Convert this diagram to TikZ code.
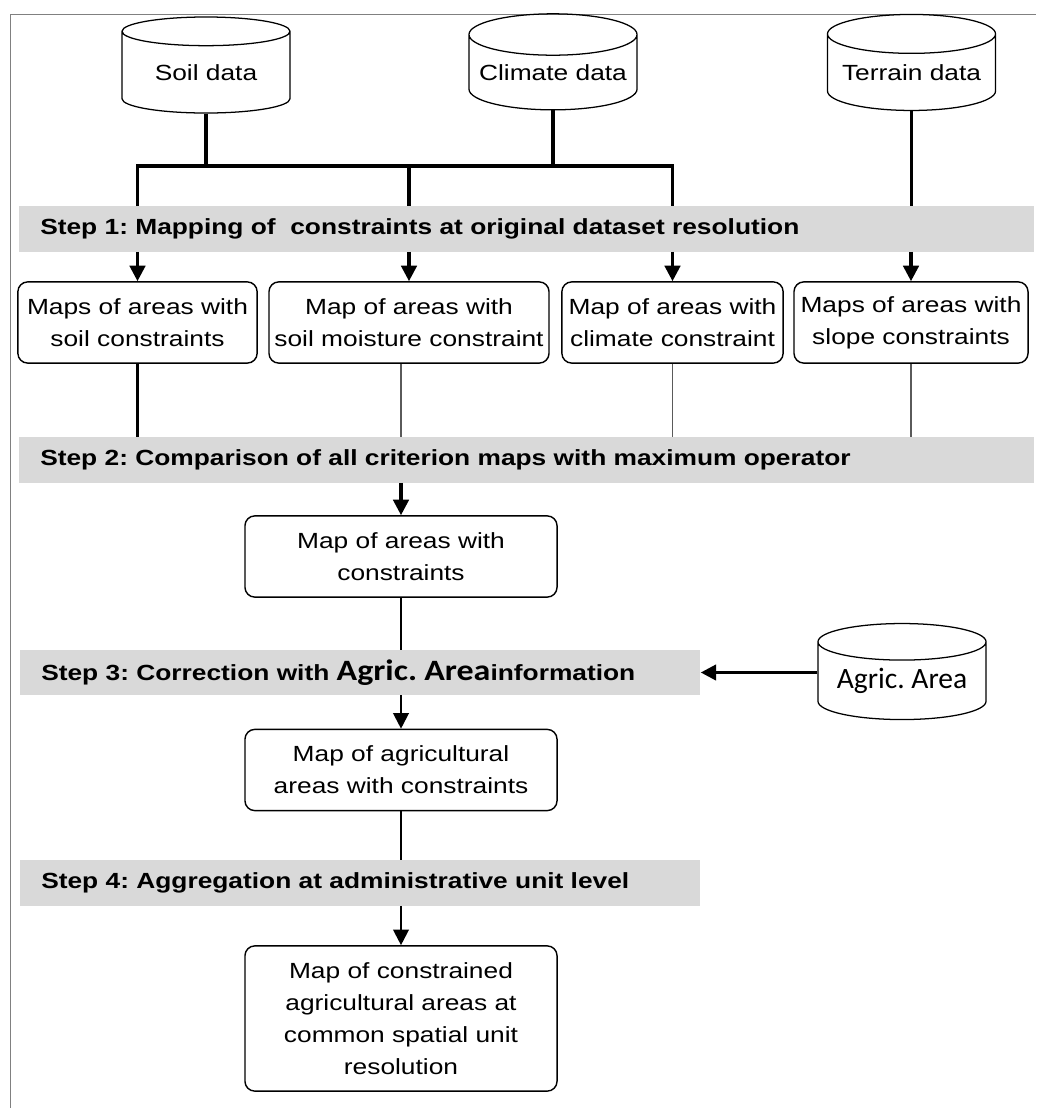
\documentclass[tikz,border=0pt]{standalone}
\usepackage{fontspec}
\setmainfont{Liberation Sans}[FakeStretch=1.2]
\newfontfamily\agricfont{Carlito}
\newfontfamily\agricstep{Carlito}[FakeStretch=1.15]
\usetikzlibrary{arrows.meta,shapes.geometric}
\frenchspacing

\definecolor{bargray}{RGB}{217,217,217}
\definecolor{framegray}{RGB}{128,128,128}
\definecolor{thingray}{RGB}{90,90,90}

\tikzset{
  every node/.style={font=\fontsize{15.6}{22.8}\selectfont},
  store/.style={draw, line width=0.9pt, shape=cylinder, shape border rotate=90,
    aspect=0.28, minimum width=4.2cm, minimum height=2.4cm, inner sep=0pt},
  mapbox/.style={draw, line width=1pt, rounded corners=7pt, align=center,
    inner xsep=0pt, minimum height=2.03cm},
  stepbar/.style={fill=bargray, anchor=west, align=left, inner xsep=0.525cm,
    minimum height=1.13cm, font=\fontsize{15.6}{18}\selectfont\bfseries},
  bus/.style={line width=2.2pt},
  midline/.style={line width=1.5pt},
  thinline/.style={line width=0.8pt, thingray}
}

\begin{document}
\begin{tikzpicture}[x=0.025cm, y=-0.025cm, >={Triangle[length=11pt,width=11pt]}]
\useasboundingbox (0,0) rectangle (1036,1108);
% Frame
\draw[framegray, line width=0.7pt] (10,1108) -- (10,14) -- (1036,14);

% Data sources
\node[store] (soil)    at (206,72.5)   {Soil data};
\node[store] (climate) at (553,72.5)   {Climate data};
\node[store] (terrain) at (911.5,72.5) {Terrain data};
\node[store, font=\agricfont\fontsize{21}{24}\selectfont] (agric) at (902,681) {Agric. Area};
\coordinate (bus) at (0,166);

% Steps
\node[stepbar, minimum width=25.35cm, text width=24.3cm] (step1) at (19,229)
  {Step 1: Mapping of\ \ constraints at original dataset resolution};
\node[stepbar, minimum width=25.35cm, text width=24.3cm] (step2) at (19,460)
  {Step 2: Comparison of all criterion maps with maximum operator};
\node[stepbar, minimum width=17cm, text width=15.95cm] (step3) at (20,672.5)
  {Step 3: Correction with {\agricstep\fontsize{21}{24}\selectfont Agric. Area}information};
\node[stepbar, minimum width=17cm, text width=15.95cm] (step4) at (20,883)
  {Step 4: Aggregation at administrative unit level};

% Maps
\node[mapbox, minimum width=5.98cm] (box1) at (137.5,322.5) {Maps of areas with\\soil constraints};
\node[mapbox, minimum width=7cm]    (box2) at (409,322.5)   {Map of areas with\\soil moisture constraint};
\node[mapbox, minimum width=5.53cm] (box3) at (672.5,322.5) {Map of areas with\\climate constraint};
\node[mapbox, minimum width=5.85cm] (box4) at (911,322.5)   {Maps of areas with\\slope constraints};
\node[mapbox, minimum width=7.8cm]  (mapc)  at (401,556.5) {Map of areas with\\constraints};
\node[mapbox, minimum width=7.8cm]  (mapag) at (401,770)   {Map of agricultural\\areas with constraints};
\node[mapbox, minimum width=7.8cm, minimum height=3.63cm] (final) at (401,1018.5)
  {Map of constrained\\agricultural areas at\\common spatial unit\\resolution};

% Connections to step 1
\draw[bus] (soil.south) -- (soil.south |- bus);
\draw[bus] (climate.south) -- (climate.south |- bus);
\draw[bus] (box1 |- step1.north) |- (box3 |- bus) -- (box3 |- step1.north);
\draw[bus] (box2 |- bus) -- (box2 |- step1.north);
\draw[bus] (terrain.south) -- (terrain |- step1.north);
\foreach \b in {box1,box2,box3,box4}
  \draw[bus,->] (\b |- step1.south) -- (\b.north);

% Connections to step 2
\draw[bus] (box1.south) -- (box1 |- step2.north);
\draw[thinline] (mapc |- box2.south) -- (mapc |- step2.north);
\draw[thinline] (box3.south) -- (box3 |- step2.north);
\draw[thinline] (box4.south) -- (box4 |- step2.north);
\draw[bus,->] (mapc |- step2.south) -- (mapc.north);

% Steps 3 and 4
\draw[midline] (mapc.south) -- (mapc |- step3.north);
\draw[bus,->] (agric.west |- step3.east) -- (step3.east);
\draw[midline,->] (mapc |- step3.south) -- (mapag.north);
\draw[midline] (mapag.south) -- (mapag |- step4.north);
\draw[midline,->] (mapag |- step4.south) -- (final.north);
\end{tikzpicture}
\end{document}
